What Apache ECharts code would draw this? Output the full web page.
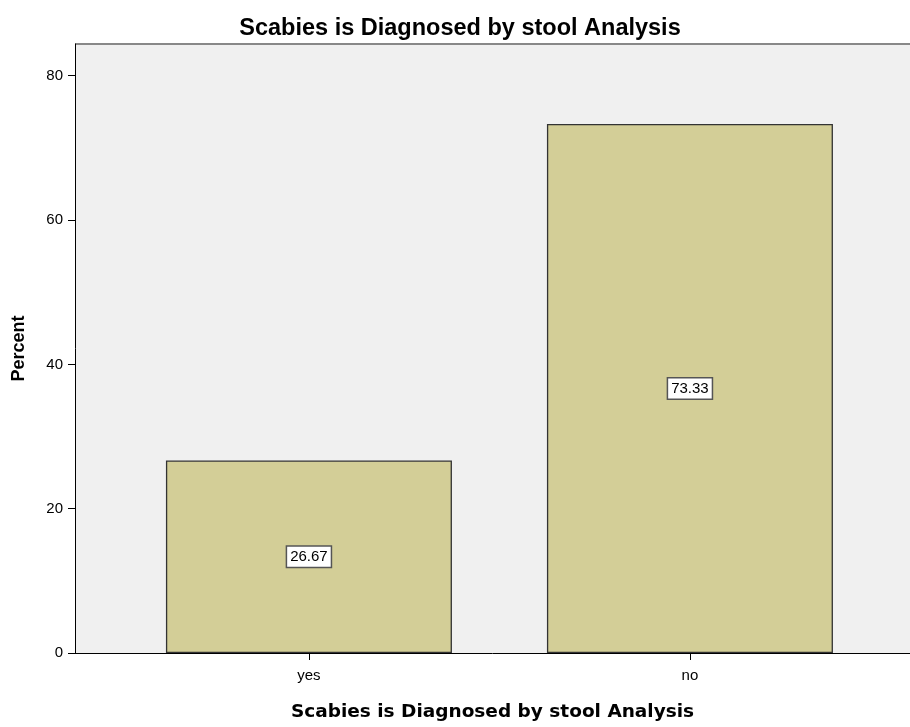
<!DOCTYPE html>
<html><head><meta charset="utf-8">
<script src="https://cdn.jsdelivr.net/npm/echarts@6/dist/echarts.min.js"></script>
<style>html,body{margin:0;padding:0;background:#fff}#c{width:910px;height:727px}</style>
</head><body><div id="c"></div>
<script>
const categories = ['yes', 'no'];
const percentValues = [26.67, 73.33];
const yTicks = [0, 20, 40, 60, 80];
const chartTitle = 'Scabies is Diagnosed by stool Analysis';
const xAxisTitle = 'Scabies is Diagnosed by stool Analysis';
const yAxisTitle = 'Percent';

const font = 'Liberation Sans, Arial, sans-serif';
const chart = echarts.init(document.getElementById('c'));
chart.setOption({
  animation: false,
  backgroundColor: '#ffffff',
  title: {
    text: chartTitle, left: 455, top: 12, textAlign: 'center',
    textStyle: {fontFamily: font, fontSize: 23.5, fontWeight: 'bold', color: '#000'}
  },
  grid: {left: 75, right: 0, top: 44, bottom: 67, show: true, backgroundColor: '#f0f0f0', borderWidth: 0},
  xAxis: {
    type: 'value', min: -0.614, max: 1.5776,
    splitLine: {show: false},
    axisLine: {show: true, onZero: false, lineStyle: {color: '#000', width: 1}},
    axisTick: {show: true, customValues: [0, 1], length: 7, lineStyle: {color: '#000'}},
    axisLabel: {customValues: [0, 1], formatter: v => categories[Math.round(v)] || '', fontFamily: font, fontSize: 15, color: '#000', margin: 15},
    name: xAxisTitle, nameLocation: 'middle', nameGap: 50,
    nameTextStyle: {fontFamily: 'DejaVu Sans, sans-serif', fontSize: 18.5, fontWeight: 'bold', color: '#000'}
  },
  yAxis: {
    type: 'value', min: 0, max: 84.4,
    splitLine: {show: false},
    axisLine: {show: true, onZero: false, lineStyle: {color: '#000', width: 1}},
    axisTick: {show: true, customValues: yTicks, length: 7, lineStyle: {color: '#000'}},
    axisLabel: {customValues: yTicks, fontFamily: font, fontSize: 15, color: '#000', margin: 12},
    name: yAxisTitle, nameLocation: 'middle', nameGap: 47,
    nameTextStyle: {fontFamily: font, fontSize: 18, fontWeight: 'bold', color: '#000'}
  },
  series: [{
    type: 'bar',
    data: percentValues.map((v, i) => [i, v]),
    barWidth: 286,
    itemStyle: {color: '#d3ce97', borderColor: '#333333', borderWidth: 1.3},
    label: {
      show: true, position: 'inside', formatter: p => p.value[1].toFixed(2),
      fontFamily: font, fontSize: 15, color: '#000',
      backgroundColor: '#fff', borderColor: '#555', borderWidth: 1.5, padding: [3, 3, 2, 3]
    }
  }],
  graphic: [{
    type: 'line', shape: {x1: 75, y1: 44, x2: 910, y2: 44},
    style: {stroke: '#888', lineWidth: 2}
  }]
});
</script></body></html>
